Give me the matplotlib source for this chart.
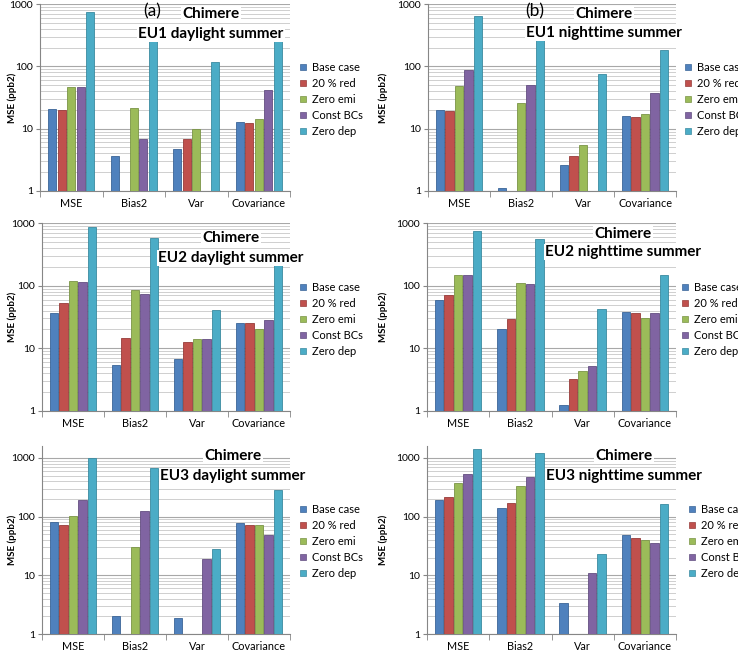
import numpy as np
import matplotlib
matplotlib.use("Agg")
import matplotlib.pyplot as plt
from matplotlib.patches import Patch
from matplotlib.ticker import LogLocator, FixedLocator, NullFormatter

plt.rcParams["font.family"] = ["Lato", "DejaVu Sans"]

nan = np.nan
categories = ["MSE", "Bias2", "Var", "Covariance"]
series = ["Base case", "20 % red", "Zero emi", "Const BCs", "Zero dep"]
colors = ["#4F81BD", "#C0504D", "#9BBB59", "#8064A2", "#4BACC6"]
edges = ["#3B6597", "#973C3A", "#7A9446", "#634E80", "#3A8AA0"]

# rows = series (Base case, 20 % red, Zero emi, Const BCs, Zero dep), cols = categories
eu1_day = [[21, 3.7, 4.7, 12.7],
           [19.7, nan, 6.8, 12.5],
           [46, 21.8, 9.8, 14.4],
           [47, 6.8, nan, 41],
           [740, 344, 119, 285]]
eu1_night = [[20, 1.1, 2.6, 16],
             [19.3, nan, 3.7, 15.5],
             [49, 26, 5.4, 17.2],
             [88, 50, nan, 37],
             [650, 360, 76, 180]]
eu2_day = [[37, 5.5, 6.8, 25],
           [52, 14.7, 12.5, 25],
           [118, 85, 14, 20],
           [115, 73, 14, 28.5],
           [860, 580, 41, 260]]
eu2_night = [[60, 20, 1.26, 38],
             [71, 29.5, 3.3, 37],
             [149, 112, 4.4, 31],
             [149, 105, 5.2, 36],
             [753, 554, 42, 146]]
eu3_day = [[82, 2.04, 1.84, 79],
           [73, nan, nan, 73],
           [101, 30, nan, 71],
           [196, 126, 19, 49],
           [1000, 680, 28.5, 285]]
eu3_night = [[193, 143, 3.4, 48],
             [215, 172, nan, 44],
             [375, 333, nan, 40],
             [530, 476, 10.8, 36],
             [1430, 1220, 23.5, 162]]

W, H = 738, 651
fig = plt.figure(figsize=(W / 100, H / 100), dpi=100)

def px_axes(l, t, r, b):
    return fig.add_axes([l / W, 1 - b / H, (r - l) / W, (b - t) / H])

def boxed(xp, yp, s):
    fig.text(xp / W, 1 - yp / H, s, ha="center", va="center", fontsize=11,
             fontweight="bold", zorder=10,
             bbox=dict(facecolor="white", edgecolor="none", pad=0.8))

# (data, axes box px, ytop, title lines, title x px, line y px, legend xy px, ylabel x px)
panels = [
    (eu1_day, (40, 4, 290, 191), 1000, ("Chimere", "EU1 daylight summer"), 211, (14, 34), (300, 62), 12),
    (eu1_night, (428, 4, 676, 191), 1000, ("Chimere", "EU1 nighttime summer"), 604, (14, 33), (685, 62), 383),
    (eu2_day, (42, 223, 290, 411), 1000, ("Chimere", "EU2 daylight summer"), 231, (238, 258), (300, 282), 12),
    (eu2_night, (427, 223, 676, 411), 1000, ("Chimere", "EU2 nighttime summer"), 623, (234, 252), (682, 282), 383),
    (eu3_day, (42, 446, 290, 634), 1600, ("Chimere", "EU3 daylight summer"), 233, (456, 476), (300, 504), 12),
    (eu3_night, (427, 446, 676, 634), 1600, ("Chimere", "EU3 nighttime summer"), 624, (456, 476), (689, 504), 383),
]

x = np.arange(len(categories))
step, bw = 0.152, 0.135
for data, box, ytop, lines, tx, tys, (lx, ly), ylx in panels:
    ax = px_axes(*box)
    ax.set_yscale("log")
    for i, vals in enumerate(data):
        ax.bar(x + (i - 2) * step, vals, width=bw, color=colors[i],
               edgecolor=edges[i], linewidth=0.6, zorder=3)
    ax.set_ylim(1, ytop)
    ax.set_xlim(-0.5, 3.5)
    ax.yaxis.set_major_locator(FixedLocator([1, 10, 100, 1000]))
    ax.set_yticklabels(["1", "10", "100", "1000"], fontsize=7.5)
    ax.yaxis.set_minor_locator(LogLocator(subs=np.arange(2, 10)))
    ax.yaxis.set_minor_formatter(NullFormatter())
    ax.grid(axis="y", which="major", color="#A8A8A8", lw=0.8, zorder=0)
    ax.grid(axis="y", which="minor", color="#CFCFCF", lw=0.7, zorder=0)
    ax.tick_params(axis="y", which="major", length=3, color="#868686", pad=2)
    ax.tick_params(axis="y", which="minor", length=0)
    ax.set_xticks(x)
    ax.set_xticklabels(categories, fontsize=7.8)
    ax.xaxis.set_minor_locator(FixedLocator([-0.5, 0.5, 1.5, 2.5, 3.5]))
    ax.tick_params(axis="x", which="major", length=0, pad=5)
    ax.tick_params(axis="x", which="minor", length=4, color="#868686")
    for s in ("top", "right"):
        ax.spines[s].set_visible(False)
    for s in ("left", "bottom"):
        ax.spines[s].set_color("#868686")
    fig.text(ylx / W, 1 - ((box[1] + box[3]) / 2) / H, "MSE (ppb2)", rotation=90,
             fontsize=7, fontweight="bold", ha="center", va="center")
    for s, ty in zip(lines, tys):
        boxed(tx, ty, s)
    handles = [Patch(facecolor=c, edgecolor=e, lw=0.5) for c, e in zip(colors, edges)]
    ax.legend(handles, series, loc="upper left", bbox_to_anchor=(lx / W, 1 - ly / H),
              bbox_transform=fig.transFigure, frameon=False, fontsize=8,
              handlelength=0.55, handleheight=0.55, handletextpad=0.5,
              labelspacing=0.45, borderpad=0, borderaxespad=0)

fig.text(152 / W, 1 - 11 / H, "(a)", ha="center", va="center", fontsize=12.5, zorder=12)
fig.text(535 / W, 1 - 11 / H, "(b)", ha="center", va="center", fontsize=12.5, zorder=12)

fig.savefig("out.png", dpi=100)
